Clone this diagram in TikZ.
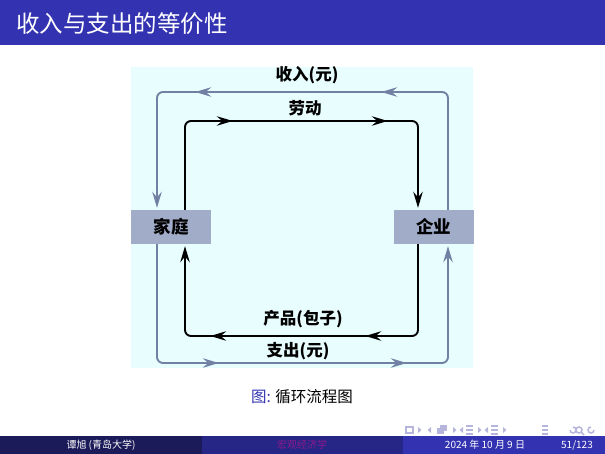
\documentclass[tikz,border=0pt]{standalone}
\usepackage{fontspec}
\newfontfamily\cjk{Noto Sans CJK SC}
\usetikzlibrary{arrows.meta,decorations.markings}

\definecolor{bluetitle}{HTML}{3333B2}
\definecolor{footdark}{HTML}{1B1B59}
\definecolor{footmid}{HTML}{262686}
\definecolor{paper}{HTML}{E8FDFE}
\definecolor{boxgray}{HTML}{A1ACC9}
\definecolor{flowgray}{HTML}{7181A3}
\definecolor{navgray}{HTML}{B5B5DD}
\definecolor{footpurple}{HTML}{8C1A8C}

\tikzset{
  sector/.style={fill=boxgray, minimum width=80pt, minimum height=34pt, inner sep=0pt,
    font=\cjk\bfseries\fontsize{17.5}{17.5}\selectfont},
  flowlab/.style={font=\cjk\bfseries\fontsize{16.5}{16.5}\selectfont, inner sep=0pt},
  money/.style={flowgray, line width=1.9pt, rounded corners=6pt,
    -{Stealth[length=16pt,width=9.5pt,inset=5.5pt]}, shorten >=2pt},
  goods/.style={black, line width=1.9pt, rounded corners=6pt,
    -{Stealth[length=16pt,width=9.5pt,inset=5.5pt]}, shorten >=2pt},
  midtips/.style 2 args={postaction={decorate, decoration={markings,
    mark=at position #1 with {\arrow{Stealth[length=16pt,width=9.5pt,inset=5.5pt]}},
    mark=at position #2 with {\arrow{Stealth[length=16pt,width=9.5pt,inset=5.5pt]}}}}},
  foottext/.style={text=white, font=\cjk\fontsize{10}{10}\selectfont, inner sep=0pt},
}

\begin{document}
\begin{tikzpicture}[x=1pt,y=-1pt]
\useasboundingbox (0,0) rectangle (605,454);

% frame title
\fill[bluetitle] (0,0) rectangle (605,45);
\node[anchor=west, text=white, inner sep=0pt, font=\cjk\fontsize{23.5}{24}\selectfont] (title) at (16,24) {收入与支出的等价性};

% figure
\fill[paper] (131,67) rectangle (473,368);
\node[sector] (jt) at (171,227) {家庭};
\node[sector] (qy) at (433.5,227) {企业};

\draw[money, midtips={182pt}{368pt}] ([xshift=14.5pt]qy.north) |- (300,92) -| ([xshift=-14pt]jt.north);
\draw[goods, midtips={134pt}{289pt}] ([xshift=14pt]jt.north) |- (300,121) -| ([xshift=-15.5pt]qy.north);
\draw[goods, midtips={142pt}{297pt}] ([xshift=-15.5pt]qy.south) |- (300,336) -| ([xshift=14pt]jt.south);
\draw[money, midtips={178pt}{366pt}] ([xshift=-14pt]jt.south) |- (300,363) -| ([xshift=14.5pt]qy.south);

\node[flowlab] (shouru) at (307,75) {收入(元)};
\node[flowlab] (laodong) at (305,108) {劳动};
\node[flowlab] (chanpin) at (303,319) {产品(包子)};
\node[flowlab] (zhichu) at (298,351) {支出(元)};

% caption
\node[inner sep=0pt, font=\cjk\fontsize{15.5}{15.5}\selectfont] (cap) at (302,397) {\textcolor{bluetitle}{图:} 循环流程图};

% navigation symbols
\draw[navgray, line width=1.5pt] (406,427) rectangle (413,433);
\foreach \x in {418,453,478,503}
  \fill[navgray] (\x,427) -- ++(3.5,3) -- ++(-3.5,3) -- cycle;
\foreach \x in {431,463,488}
  \fill[navgray] (\x,427) -- ++(-3.5,3) -- ++(3.5,3) -- cycle;
\fill[navgray] (437,428) rectangle (444,434);
\fill[navgray] (440,425) rectangle (447,431);
\foreach \x in {466,491} {
  \draw[navgray, line width=1.2pt] (\x,426) -- ++(7,0);
  \draw[navgray, line width=1.2pt] (\x,430) -- ++(7,0);
  \draw[navgray, line width=1.2pt] (\x,434) -- ++(7,0);
}
\draw[navgray, line width=1.2pt] (542,426) -- ++(6,0) (542,430) -- ++(6,0) (542,434) -- ++(6,0);
\draw[navgray, line width=1.5pt] (570,430) arc (180:-90:3);
\draw[navgray, line width=1.5pt] (579,430) circle (3) (581,432) -- (584,435);
\draw[navgray, line width=1.5pt] (594,430) arc (0:270:3);

% footline
\fill[footdark] (0,436) rectangle (202,454);
\fill[footmid] (202,436) rectangle (403,454);
\fill[bluetitle] (403,436) rectangle (605,454);
\node[foottext] (author) at (101,445) {谭旭 (青岛大学)};
\node[foottext, text=footpurple] (course) at (302,445) {宏观经济学};
\node[foottext] (date) at (485,445) {2024 年 10 月 9 日};
\node[foottext] (page) at (577,445) {51/123};
\end{tikzpicture}
\end{document}
